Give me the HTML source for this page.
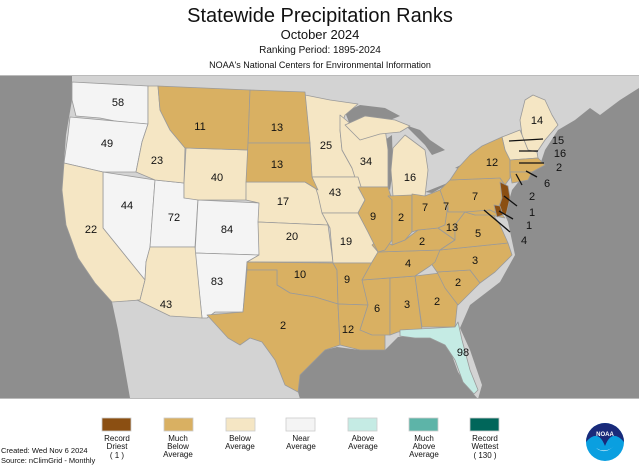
<!DOCTYPE html>
<html><head><meta charset="utf-8"><style>
body{margin:0;width:639px;height:467px;background:#fff;overflow:hidden;font-family:"Liberation Sans",sans-serif}
</style></head><body>
<svg width="639" height="467" viewBox="0 0 639 467" xmlns="http://www.w3.org/2000/svg" font-family="Liberation Sans, sans-serif">
<text x="320" y="22" font-size="20" text-anchor="middle" fill="#111">Statewide Precipitation Ranks</text>
<text x="320" y="39" font-size="13" text-anchor="middle" fill="#111">October 2024</text>
<text x="320" y="53" font-size="10" text-anchor="middle" fill="#111">Ranking Period: 1895-2024</text>
<text x="320" y="68" font-size="9" text-anchor="middle" fill="#111">NOAA's National Centers for Environmental Information</text>
<rect x="0" y="75" width="639" height="324" fill="#d3d3d3"/>
<line x1="0" y1="75.5" x2="639" y2="75.5" stroke="#bbb"/>
<g fill="#8e8e8e">
<path d="M0,76 L72,76 L72,100 L66,135 L62,190 L66,225 L78,258 L95,283 L112,302 L118,330 L130,398 L0,398Z"/>
<path d="M300,399 L298,392 L300,375 L325,350 L337,347 L360,350 L385,350 L398,337 L420,335 L440,340 L450,350 L458,372 L470,390 L478,399Z"/>
<path d="M478,399 L482,385 L470,350 L460,328 L470,305 L500,282 L515,255 L508,222 L505,215 L512,190 L520,180 L540,165 L545,150 L558,130 L575,120 L590,108 L600,115 L620,100 L639,88 L639,399Z"/>
<path d="M345,112 L360,105 L385,108 L400,116 L385,122 L365,120 L350,125Z"/>
<path d="M385,140 L392,135 L393,170 L390,190 L385,185Z"/>
<path d="M405,125 L420,130 L430,140 L445,150 L432,155 L425,145 L415,135Z"/>
<path d="M425,192 L445,184 L462,176 L450,183 L432,193Z"/>
<path d="M455,168 L470,160 L482,160 L466,170Z"/>
</g>
<g stroke="#9a9a9a" stroke-width="0.8" stroke-linejoin="round">
<g fill="#f4f4f4">
<path d="M72,82 L148,86 L148,124 L120,122 L100,118 L76,116 L72,100Z"/>
<path d="M70,117 L148,124 L142,142 L136,172 L103,172 L64,163 L68,135Z"/>
<path d="M103,172 L155,180 L150,248 L146,262 L145,280 L103,228Z"/>
<path d="M155,180 L184,183 L184,198 L198,198 L195,247 L150,247Z"/>
<path d="M198,200 L260,203 L259,255 L195,253Z"/>
<path d="M195,253 L259,255 L247,262 L243,312 L215,312 L207,318 L202,318Z"/>
</g>
<g fill="#f5e6c4">
<path d="M64,163 L103,172 L103,228 L145,280 L140,300 L112,302 L95,283 L78,258 L66,225 L62,190Z"/>
<path d="M148,86 L158,86 L160,110 L170,130 L185,148 L184,183 L155,180 L136,172 L142,142 L148,124Z"/>
<path d="M186,148 L248,150 L246,200 L198,200 L184,198 L184,183Z"/>
<path d="M150,247 L195,247 L202,318 L170,316 L137,300 L140,300 L145,280 L146,262Z"/>
<path d="M246,182 L305,182 L318,190 L328,225 L258,222 L259,203 L246,200Z"/>
<path d="M258,222 L328,225 L333,262 L247,262 L259,255Z"/>
<path d="M305,95 L330,100 L358,104 L345,115 L340,130 L342,150 L352,168 L358,177 L312,177 L310,145Z"/>
<path d="M340,115 L352,125 L365,120 L385,128 L388,150 L388,187 L358,187 L352,168 L342,150 L340,130Z"/>
<path d="M312,177 L358,177 L362,190 L365,200 L358,213 L322,213 L318,195Z"/>
<path d="M322,213 L358,213 L368,232 L378,252 L375,263 L333,263 L330,228Z"/>
<path d="M393,148 L405,135 L425,150 L428,170 L425,196 L393,196 L391,170Z"/>
<path d="M345,125 L365,116 L395,120 L410,126 L400,132 L380,134 L360,140Z"/>
<path d="M520,120 L525,100 L533,95 L545,100 L552,115 L558,125 L545,140 L537,152 L528,150 L522,135Z"/>
<path d="M502,137 L520,130 L522,135 L528,150 L537,152 L538,158 L510,160 L505,150Z"/>
</g>
<g fill="#d9b062">
<path d="M158,86 L250,90 L248,150 L186,148 L185,148 L170,130 L160,110Z"/>
<path d="M250,90 L305,92 L310,143 L248,143Z"/>
<path d="M248,143 L310,143 L312,177 L318,190 L305,182 L246,182Z"/>
<path d="M247,262 L333,263 L337,270 L338,304 L315,297 L290,293 L277,285 L277,270 L247,270Z"/>
<path d="M207,315 L243,312 L247,270 L277,270 L277,285 L290,293 L315,297 L338,304 L340,345 L325,350 L300,375 L298,392 L285,385 L275,360 L262,342 L250,338 L240,345 L228,338Z"/>
<path d="M333,263 L375,263 L378,270 L368,305 L338,304 L337,270Z"/>
<path d="M338,304 L368,305 L360,330 L385,330 L385,350 L360,350 L340,345Z"/>
<path d="M362,280 L390,278 L390,335 L372,335 L360,330 L368,305Z"/>
<path d="M390,278 L415,276 L422,330 L398,332 L390,335Z"/>
<path d="M415,276 L440,273 L458,298 L455,327 L422,327Z"/>
<path d="M437,272 L470,270 L480,283 L458,305 L445,288Z"/>
<path d="M430,262 L440,250 L508,243 L512,255 L495,272 L480,283 L470,270 L437,272Z"/>
<path d="M372,262 L378,252 L440,250 L435,262 L430,266 L415,276 L362,280Z"/>
<path d="M378,252 L372,245 L380,238 L392,245 L405,240 L418,230 L438,228 L455,240 L440,250Z"/>
<path d="M358,187 L388,187 L392,200 L392,240 L385,250 L378,252 L368,232 L358,213 L365,200Z"/>
<path d="M388,196 L412,195 L412,232 L405,240 L392,245 L392,200Z"/>
<path d="M412,194 L425,196 L440,190 L448,205 L445,225 L438,228 L418,230 L412,232Z"/>
<path d="M440,190 L450,180 L500,178 L505,185 L502,198 L497,212 L448,212Z"/>
<path d="M448,205 L448,212 L465,212 L455,225 L455,240 L438,228 L445,225Z"/>
<path d="M455,240 L455,225 L465,212 L475,215 L490,210 L500,225 L508,243 L440,250Z"/>
<path d="M465,212 L490,210 L498,214 L500,212 L505,218 L490,215 L475,215Z"/>
<path d="M450,180 L458,168 L470,155 L482,146 L502,137 L505,150 L510,160 L510,178 L505,185 L500,178Z"/>
<path d="M510,160 L538,158 L545,165 L532,172 L510,172Z"/>
<path d="M510,172 L532,172 L528,180 L512,183Z"/>
</g>
<g fill="#8b4f12">
<path d="M500,182 L508,186 L510,198 L506,215 L498,210 L502,198Z"/>
<path d="M494,205 L500,206 L503,215 L497,217Z"/>
</g>
<path fill="#c5ebe4" d="M400,330 L455,327 L458,322 L462,340 L470,370 L478,390 L474,394 L463,382 L455,360 L445,345 L430,338 L415,338 L400,336Z"/>
</g>
<g font-size="11" fill="#111" text-anchor="middle">
<text x="118" y="106">58</text><text x="107" y="147">49</text><text x="157" y="164">23</text>
<text x="200" y="130">11</text><text x="277" y="131">13</text><text x="277" y="168">13</text>
<text x="217" y="181">40</text><text x="127" y="209">44</text><text x="174" y="221">72</text>
<text x="227" y="233">84</text><text x="91" y="233">22</text><text x="283" y="205">17</text>
<text x="292" y="240">20</text><text x="166" y="308">43</text><text x="217" y="285">83</text>
<text x="300" y="278">10</text><text x="283" y="329">2</text><text x="347" y="283">9</text>
<text x="348" y="333">12</text><text x="377" y="312">6</text><text x="407" y="308">3</text>
<text x="437" y="305">2</text><text x="458" y="286">2</text><text x="475" y="264">3</text>
<text x="463" y="356">98</text><text x="408" y="267">4</text><text x="422" y="245">2</text>
<text x="401" y="221">2</text><text x="373" y="220">9</text><text x="425" y="211">7</text>
<text x="452" y="231">13</text><text x="478" y="237">5</text><text x="475" y="200">7</text>
<text x="492" y="166">12</text><text x="537" y="124">14</text><text x="326" y="149">25</text>
<text x="366" y="165">34</text><text x="410" y="181">16</text><text x="335" y="196">43</text>
<text x="346" y="245">19</text><text x="446" y="210">7</text>
<text x="558" y="144">15</text><text x="560" y="157">16</text><text x="559" y="171">2</text>
<text x="547" y="187">6</text><text x="532" y="200">2</text><text x="532" y="216">1</text>
<text x="529" y="229">1</text><text x="524" y="244">4</text>
</g>
<g stroke="#111" stroke-width="1.3">
<line x1="509" y1="141" x2="543" y2="139"/><line x1="519" y1="151" x2="538" y2="151"/>
<line x1="519" y1="163" x2="544" y2="163"/><line x1="526" y1="171" x2="537" y2="177"/>
<line x1="516" y1="174" x2="522" y2="185"/><line x1="504" y1="196" x2="517" y2="206"/>
<line x1="499" y1="211" x2="513" y2="219"/><line x1="484" y1="210" x2="510" y2="232"/>
</g>
<line x1="0" y1="398.5" x2="639" y2="398.5" stroke="#bbb"/>
<g stroke="#ccc" stroke-width="0.8">
<rect x="102" y="418" width="29" height="13" fill="#8b4f12"/>
<rect x="164" y="418" width="29" height="13" fill="#d9b062"/>
<rect x="226" y="418" width="29" height="13" fill="#f5e6c4"/>
<rect x="286" y="418" width="29" height="13" fill="#f4f4f4"/>
<rect x="348" y="418" width="29" height="13" fill="#c5ebe4"/>
<rect x="409" y="418" width="29" height="13" fill="#5db4a8"/>
<rect x="470" y="418" width="29" height="13" fill="#00665a"/>
</g>
<g font-size="8" fill="#111" text-anchor="middle">
<text x="117" y="441">Record</text><text x="117" y="449">Driest</text><text x="117" y="458">( 1 )</text>
<text x="178" y="441">Much</text><text x="178" y="449">Below</text><text x="178" y="457">Average</text>
<text x="240" y="441">Below</text><text x="240" y="449">Average</text>
<text x="301" y="441">Near</text><text x="301" y="449">Average</text>
<text x="363" y="441">Above</text><text x="363" y="449">Average</text>
<text x="424" y="441">Much</text><text x="424" y="449">Above</text><text x="424" y="457">Average</text>
<text x="485" y="441">Record</text><text x="485" y="449">Wettest</text><text x="485" y="458">( 130 )</text>
</g>
<g font-size="7.5" fill="#111">
<text x="1" y="453">Created: Wed Nov  6 2024</text>
<text x="1" y="463">Source: nClimGrid - Monthly</text>
</g>
<circle cx="605" cy="442" r="19" fill="#0a9fe0"/>
<path d="M586,442 A19,19 0 0 1 624,442 Q612,428 605,446 Q598,428 586,442Z" fill="#1a2a7a"/>
<text x="605" y="436" font-size="6" fill="#fff" text-anchor="middle" font-weight="bold">NOAA</text>
<path d="M596,448 Q605,455 614,446 Q608,452 600,450Z" fill="#fff"/>
</svg>
</body></html>
